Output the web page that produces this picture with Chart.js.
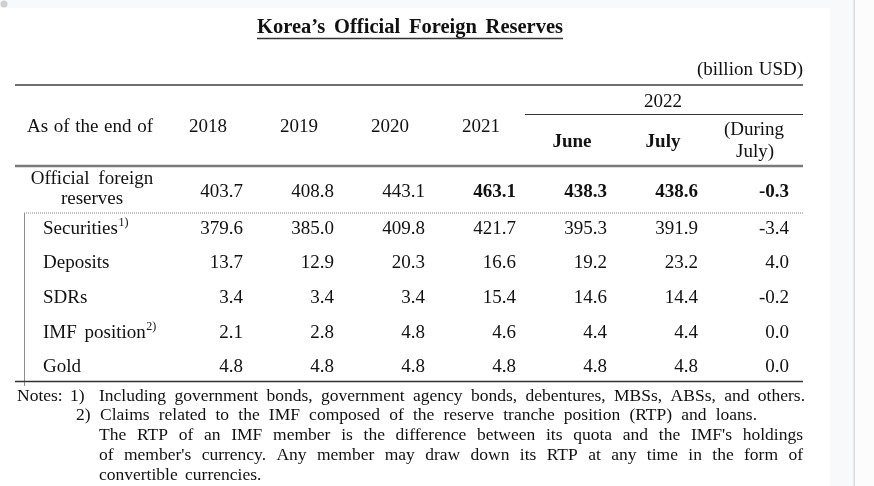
<!DOCTYPE html>
<html>
<head>
<meta charset="utf-8">
<script src="https://cdn.jsdelivr.net/npm/chart.js@4.4.1/dist/chart.umd.min.js"></script>
<style>
html,body{margin:0;padding:0;background:#fff;overflow:hidden}
#wrap{width:874px;height:486px}
canvas{display:block}
</style>
</head>
<body>
<div id="wrap"><canvas id="c" width="874" height="486"></canvas></div>
<script>
// ---------- data ----------
const title = "Korea\u2019s Official Foreign Reserves";
const unitLabel = "(billion USD)";
const groupLabel = "2022";
const stubHeader = "As of the end of";
const columns = ["2018", "2019", "2020", "2021", "June", "July", "(During July)"];
const rows = ["Official foreign reserves", "Securities", "Deposits", "SDRs", "IMF position", "Gold"];
const rowNotes = ["", "1)", "", "", "2)", ""];
const v2018 = [403.7, 379.6, 13.7, 3.4, 2.1, 4.8];
const v2019 = [408.8, 385.0, 12.9, 3.4, 2.8, 4.8];
const v2020 = [443.1, 409.8, 20.3, 3.4, 4.8, 4.8];
const v2021 = [463.1, 421.7, 16.6, 15.4, 4.6, 4.8];
const vJune = [438.3, 395.3, 19.2, 14.6, 4.4, 4.8];
const vJuly = [438.6, 391.9, 23.2, 14.4, 4.4, 4.8];
const vDuring = [-0.3, -3.4, 4.0, -0.2, 0.0, 0.0];
const notesLabel = "Notes:";
const noteMarks = ["1)", "2)"];
const notes1 = ["Including government bonds, government agency bonds, debentures, MBSs, ABSs, and others."];
const notes2 = [
  "Claims related to the IMF composed of the reserve tranche position (RTP) and loans.",
  "The RTP of an IMF member is the difference between its quota and the IMF's holdings",
  "of member's currency. Any member may draw down its RTP at any time in the form of",
  "convertible currencies."
];
const seriesValues = [v2018, v2019, v2020, v2021, vJune, vJuly, vDuring];

// ---------- drawing helpers ----------
const FONT = '"Liberation Serif","Times New Roman",serif';
const INK = '#111111';
function setFont(ctx, size, bold) { ctx.font = (bold ? 'bold ' : '') + size + 'px ' + FONT; }
function drawSpaced(ctx, text, x, y, align, extra) {
  const words = text.split(' ');
  const sp = ctx.measureText(' ').width + extra;
  const widths = words.map(w => ctx.measureText(w).width);
  const total = widths.reduce((a, b) => a + b, 0) + sp * (words.length - 1);
  let sx = align === 'center' ? x - total / 2 : (align === 'right' ? x - total : x);
  ctx.textAlign = 'left';
  words.forEach((w, i) => { ctx.fillText(w, sx, y); sx += widths[i] + sp; });
  return sx - sp;
}
function drawJustified(ctx, text, x0, x1, y) {
  const words = text.split(' ');
  const widths = words.map(w => ctx.measureText(w).width);
  const sum = widths.reduce((a, b) => a + b, 0);
  const gap = words.length > 1 ? (x1 - x0 - sum) / (words.length - 1) : 0;
  let sx = x0;
  ctx.textAlign = 'left';
  words.forEach((w, i) => { ctx.fillText(w, sx, y); sx += widths[i] + gap; });
}
function hline(ctx, x0, x1, y, w, color, dash) {
  ctx.save();
  ctx.beginPath();
  ctx.strokeStyle = color; ctx.lineWidth = w;
  if (dash) ctx.setLineDash(dash);
  ctx.moveTo(x0, y); ctx.lineTo(x1, y); ctx.stroke();
  ctx.restore();
}
function vline(ctx, x, y0, y1, w, color) {
  ctx.save();
  ctx.beginPath();
  ctx.strokeStyle = color; ctx.lineWidth = w;
  ctx.moveTo(x, y0); ctx.lineTo(x, y1); ctx.stroke();
  ctx.restore();
}
const fmt = v => v.toFixed(1);

const pagePlugin = {
  id: 'page',
  beforeDraw(chart) {
    const ctx = chart.ctx;
    ctx.save();
    ctx.fillStyle = '#f8f9fb';
    ctx.fillRect(0, 0, 874, 486);
    ctx.fillStyle = '#ffffff';
    ctx.fillRect(0, 8, 830, 478);
    ctx.fillStyle = '#fcfcfd';
    ctx.fillRect(855, 0, 19, 486);
    ctx.fillStyle = '#dadbdd';
    ctx.fillRect(853.5, 0, 1.5, 486);
    ctx.fillStyle = '#cfcfcf';
    ctx.beginPath(); ctx.arc(4, 4, 3.5, 0, Math.PI * 2); ctx.fill();
    ctx.restore();
  }
};

const tablePlugin = {
  id: 'table',
  afterDatasetsDraw(chart) {
    const ctx = chart.ctx;
    const a = chart.chartArea;
    const xs = chart.scales.x, ys = chart.scales.y;
    const L = a.left, R = a.right, T = a.top, B = a.bottom;
    ctx.save();
    ctx.fillStyle = INK;
    ctx.textBaseline = 'alphabetic';

    // title
    setFont(ctx, 20.5, true);
    const tw = 306, tcx = (L + R) / 2 + 1;
    drawJustified(ctx, title, tcx - tw / 2, tcx + tw / 2, 33);
    hline(ctx, tcx - tw / 2, tcx + tw / 2, 38.5, 1.5, '#333');

    // unit
    setFont(ctx, 19, false);
    drawSpaced(ctx, unitLabel, R, T - 10, 'right', 1);

    // header rules
    hline(ctx, L, R, T, 2, '#6e6e6e');
    const hdrBottom = T + 81;
    hline(ctx, L, R, hdrBottom, 2.5, '#7a7a7a');

    // header texts
    const colCenter = c => xs.getPixelForValue(c) - 35;
    setFont(ctx, 19, false);
    drawJustified(ctx, stubHeader, L + 12, L + 138, T + 47);
    for (let c = 0; c < 4; c++) {
      ctx.textAlign = 'center';
      ctx.fillText(columns[c], colCenter(c), T + 47);
    }
    const gx = (colCenter(4) + colCenter(6)) / 2;
    ctx.textAlign = 'center';
    ctx.fillText(groupLabel, gx, T + 22);
    hline(ctx, colCenter(4) - 47, R, T + 29.5, 1.2, '#333');
    setFont(ctx, 19, true);
    for (let c = 4; c < 6; c++) {
      ctx.textAlign = 'center';
      ctx.fillText(columns[c], colCenter(c), T + 62);
    }
    setFont(ctx, 19, false);
    const dParts = columns[6].split(' ');
    ctx.textAlign = 'center';
    ctx.fillText(dParts[0], colCenter(6), T + 50);
    ctx.fillText(dParts[1], colCenter(6) + 1, T + 72);

    // row stub labels
    const y0 = ys.getPixelForValue(0);
    const r0 = rows[0].split(' ');
    setFont(ctx, 19, false);
    drawSpaced(ctx, r0[0] + ' ' + r0[1], L + 77, y0 - 8.6, 'center', 4);
    drawSpaced(ctx, r0.slice(2).join(' '), L + 77, y0 + 11.4, 'center', 2);

    const dotY = T + 128;
    hline(ctx, L + 9, R, dotY, 1, '#8a8a8a', [1, 1]);
    vline(ctx, L + 9.5, dotY, B + 5, 1, '#8c8c8c');

    for (let r = 1; r < rows.length; r++) {
      const yy = ys.getPixelForValue(r) + 6.5;
      setFont(ctx, 19, false);
      const end = drawSpaced(ctx, rows[r], L + 28, yy, 'left', 3);
      if (rowNotes[r]) {
        setFont(ctx, 12, false);
        ctx.textAlign = 'left';
        ctx.fillText(rowNotes[r], end + 0.5, yy - 8);
      }
    }

    // values from the library's point elements
    chart.data.datasets.forEach((ds, c) => {
      const meta = chart.getDatasetMeta(c);
      meta.data.forEach((pt, r) => {
        const bold = r === 0 && c >= 3;
        setFont(ctx, 19, bold);
        ctx.textAlign = 'right';
        ctx.fillText(fmt(ds.data[r].v), pt.x, pt.y + (r === 0 ? 4.5 : 6.5));
      });
    });

    hline(ctx, L, R, B + 0.5, 1.5, '#333');

    // notes
    setFont(ctx, 17.5, false);
    const nb = B + 19.5, lh = 19.8;
    ctx.textAlign = 'left';
    ctx.fillText(notesLabel, 17, nb);
    ctx.fillText(noteMarks[0], 70, nb);
    drawJustified(ctx, notes1[0], 99, 805, nb);
    ctx.fillText(noteMarks[1], 76, nb + lh);
    drawJustified(ctx, notes2[0], 100, 757, nb + lh);
    drawJustified(ctx, notes2[1], 99, 803, nb + 2 * lh);
    drawJustified(ctx, notes2[2], 99, 803, nb + 3 * lh);
    drawSpaced(ctx, notes2[3], 99, nb + 4 * lh, 'left', 3);

    ctx.restore();
  }
};

const datasets = columns.map((name, c) => ({
  label: name,
  data: seriesValues[c].map((v, r) => ({ x: c, y: r, v: v })),
  pointRadius: 0,
  pointHoverRadius: 0,
  showLine: false
}));

new Chart(document.getElementById('c'), {
  type: 'scatter',
  data: { datasets: datasets },
  options: {
    responsive: false,
    animation: false,
    events: [],
    layout: { padding: { left: 15, right: 71, top: 85, bottom: 105 } },
    plugins: { legend: { display: false }, tooltip: { enabled: false }, title: { display: false } },
    scales: {
      x: { type: 'linear', display: false, min: -2.505, max: 6.154 },
      y: { type: 'linear', display: false, reverse: true, min: -3.107, max: 5.440 }
    }
  },
  plugins: [pagePlugin, tablePlugin]
});
</script>
</body>
</html>
